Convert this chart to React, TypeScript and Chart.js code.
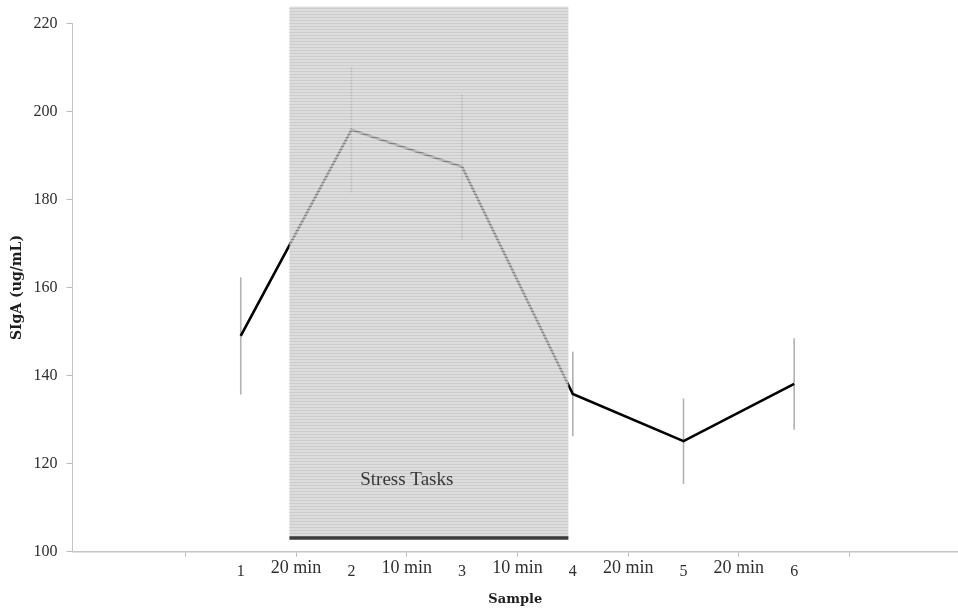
import React, { useEffect, useRef } from 'react';
import { Chart, registerables } from 'chart.js';

Chart.register(...registerables);

// ---- data ----
const sampleLabels = ['1', '2', '3', '4', '5', '6'];
const intervalLabels = ['20 min', '10 min', '10 min', '20 min', '20 min'];
const sigaMean = [149.0, 195.8, 187.4, 135.8, 125.1, 138.1];
const sigaError = [13.3, 14.3, 16.5, 9.6, 9.7, 10.4];
const yMin = 100;
const yMax = 220;
const yStep = 20;
const stressLabel = 'Stress Tasks';

// annotation (in axis units)
const stressSpan = { from: 1.44, to: 3.96, bottom: 103.1, top: 223.8 };
const stressTextAt = { x: 2.5, y: 116.3 };

const SERIF = '"Liberation Serif", "Times New Roman", serif';
const TITLE_FONT = '"DejaVu Serif", serif';

// tick positions: samples at integer positions, intervals at half positions,
// plus the outer boundary tick marks
const xTickValues: number[] = [0.5];
sampleLabels.forEach((_, i) => {
  xTickValues.push(i + 1);
  if (i < intervalLabels.length) xTickValues.push(i + 1.5);
});
xTickValues.push(sampleLabels.length + 0.5);

function labelFor(v: number): string {
  if (Number.isInteger(v)) return sampleLabels[v - 1] ?? '';
  const idx = Math.round(v - 1.5);
  return intervalLabels[idx] ?? '';
}

function makeStripePattern(ctx: CanvasRenderingContext2D) {
  const pc = document.createElement('canvas');
  pc.width = 4;
  pc.height = 3;
  const p = pc.getContext('2d')!;
  p.fillStyle = 'rgba(215,215,215,0.85)';
  p.fillRect(0, 0, 4, 2);
  p.fillStyle = 'rgba(182,182,182,0.7)';
  p.fillRect(0, 2, 4, 1);
  return ctx.createPattern(pc, 'repeat');
}

const stressPlugin = {
  id: 'stressOverlay',
  beforeDatasetsDraw(chart: any) {
    const { ctx, scales } = chart;
    const xs = scales.x;
    const ys = scales.y;
    ctx.save();
    ctx.strokeStyle = '#b2b2b2';
    ctx.lineWidth = 1.6;
    sigaMean.forEach((m, i) => {
      const x = xs.getPixelForValue(i + 1);
      ctx.beginPath();
      ctx.moveTo(x, ys.getPixelForValue(m + sigaError[i]));
      ctx.lineTo(x, ys.getPixelForValue(m - sigaError[i]));
      ctx.stroke();
    });
    ctx.restore();
  },
  afterDatasetsDraw(chart: any) {
    const { ctx, scales } = chart;
    const xs = scales.x;
    const ys = scales.y;
    const x1 = xs.getPixelForValue(stressSpan.from);
    const x2 = xs.getPixelForValue(stressSpan.to);
    const yT = ys.getPixelForValue(stressSpan.top);
    const yB = ys.getPixelForValue(stressSpan.bottom);
    ctx.save();
    const pat = makeStripePattern(ctx);
    ctx.fillStyle = pat || 'rgba(200,200,200,0.8)';
    ctx.fillRect(x1, yT, x2 - x1, yB - yT);
    // dark base bar
    ctx.strokeStyle = '#3c3c3c';
    ctx.lineWidth = 3.5;
    ctx.beginPath();
    ctx.moveTo(x1, yB);
    ctx.lineTo(x2, yB);
    ctx.stroke();
    // label
    ctx.fillStyle = '#383838';
    ctx.font = `19px ${SERIF}`;
    ctx.textAlign = 'center';
    ctx.textBaseline = 'middle';
    ctx.fillText(stressLabel, xs.getPixelForValue(stressTextAt.x), ys.getPixelForValue(stressTextAt.y));
    ctx.restore();
  },
};

export default function App() {
  const canvasRef = useRef<HTMLCanvasElement | null>(null);

  useEffect(() => {
    if (!canvasRef.current) return;
    const chart = new Chart(canvasRef.current, {
      type: 'line',
      data: {
        datasets: [
          {
            label: 'SIgA',
            data: sigaMean.map((y, i) => ({ x: i + 1, y })),
            borderColor: '#000000',
            borderWidth: 2.6,
            pointRadius: 0,
            tension: 0,
            fill: false,
          },
        ],
      },
      options: {
        animation: false,
        responsive: false,
        devicePixelRatio: 1,
        layout: { padding: { top: 23.3, left: 0, right: 0, bottom: 0 } },
        plugins: {
          legend: { display: false },
          tooltip: { enabled: false },
        },
        scales: {
          x: {
            type: 'linear',
            min: -0.52,
            max: 7.48,
            afterBuildTicks: (s: any) => {
              s.ticks = xTickValues.map((v) => ({ value: v }));
            },
            afterFit: (s: any) => {
              s.height = 60.3;
            },
            ticks: {
              autoSkip: false,
              maxRotation: 0,
              minRotation: 0,
              padding: 1,
              color: '#2e2e2e',
              font: (ctx: any) =>
                ctx.tick && Number.isInteger(ctx.tick.value)
                  ? { family: SERIF, size: 16, lineHeight: 1.72 }
                  : { family: SERIF, size: 18, lineHeight: 1.2 },
              callback: (v: any) => labelFor(Number(v)),
            },
            grid: {
              drawOnChartArea: false,
              drawTicks: true,
              tickLength: 5,
              tickWidth: 1,
              tickColor: (ctx: any) =>
                ctx.tick && !Number.isInteger(ctx.tick.value) ? '#bdbdbd' : 'rgba(0,0,0,0)',
            },
            border: { display: true, color: '#c4c4c4', width: 1.5 },
            title: {
              display: true,
              text: 'Sample',
              color: '#1e1e1e',
              font: { family: TITLE_FONT, size: 13, weight: 'bold' },
              padding: { top: 0, bottom: 5 },
            },
          },
          y: {
            min: yMin,
            max: yMax,
            afterFit: (s: any) => {
              s.width = 72.5;
            },
            ticks: {
              stepSize: yStep,
              padding: 9,
              color: '#2e2e2e',
              font: { family: SERIF, size: 16 },
            },
            grid: {
              drawOnChartArea: false,
              drawTicks: true,
              tickLength: 6,
              tickColor: '#bdbdbd',
            },
            border: { display: true, color: '#c4c4c4', width: 1 },
            title: {
              display: true,
              text: 'SIgA (ug/mL)',
              color: '#1e1e1e',
              font: { family: TITLE_FONT, size: 14, weight: 'bold' },
              padding: { top: 9, bottom: 0 },
            },
          },
        },
      },
      plugins: [stressPlugin],
    } as any);
    return () => chart.destroy();
  }, []);

  return (
    <div style={{ position: 'absolute', left: 0, top: 0, width: 958, height: 612, background: '#ffffff' }}>
      <canvas ref={canvasRef} width={958} height={612} style={{ display: 'block' }} />
    </div>
  );
}
